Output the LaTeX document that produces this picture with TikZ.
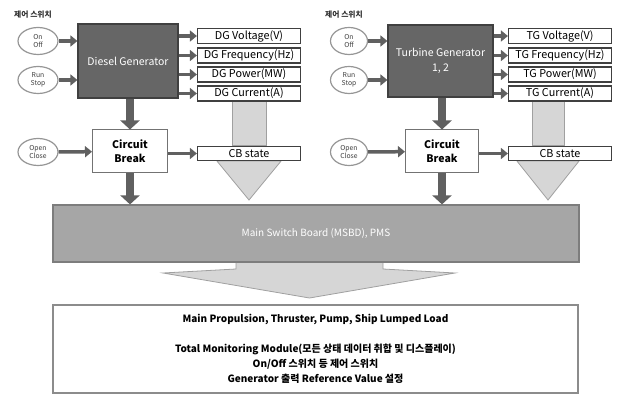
\documentclass[tikz,border=0pt]{standalone}
\usepackage{fontspec}
\setmainfont{Noto Sans CJK KR}
\usetikzlibrary{arrows.meta, shapes.geometric, calc, backgrounds}
\definecolor{genfill}{RGB}{102,102,102}
\definecolor{genline}{RGB}{64,64,64}
\definecolor{flowgray}{RGB}{96,96,96}
\definecolor{boardfill}{RGB}{166,166,166}
\definecolor{boardline}{RGB}{125,125,125}
\definecolor{lightfill}{RGB}{214,214,214}
\definecolor{lightline}{RGB}{160,160,160}
\definecolor{switchline}{RGB}{150,150,150}

\begin{document}
\begin{tikzpicture}[x=1pt, y=-1pt,
	switch/.style={ellipse, draw=switchline, line width=1.2pt, fill=white, minimum width=40pt, minimum height=27pt, inner sep=0pt, align=center, font=\fontsize{6.8}{7.8}\selectfont, text=black!75},
	gen/.style={draw=genline, line width=1.2pt, fill=genfill, text=white, align=center, inner sep=0pt, font=\fontsize{10.5}{15}\selectfont},
	outbox/.style={draw=black!75, line width=1.2pt, fill=white, minimum width=103pt, minimum height=15pt, inner sep=0pt, font=\fontsize{10.8}{11}\selectfont},
	breaker/.style={draw=black!55, line width=1pt, fill=white, minimum width=75pt, minimum height=43pt, inner sep=0pt, align=center, font=\bfseries\fontsize{10.5}{14}\selectfont},
	caption/.style={font=\bfseries\fontsize{7.8}{8}\selectfont, text=black!80},
	flow/.style={draw=flowgray, line width=3.5pt, -{Triangle[length=7pt, width=11pt]}},
	bigflow/.style={draw=flowgray, line width=8pt, -{Triangle[length=9pt, width=19pt]}},
	wide/.style={fill=lightfill, draw=lightline, line width=0.8pt},
	]
	\useasboundingbox (0,0) rectangle (618,406);

	\node[caption] (dglabel) at (33,15) {제어 스위치};
	\node[switch] (dgon) at (38,41) {On\\Off};
	\node[switch] (dgrun) at (38,80) {Run\\Stop};
	\node[switch] (dgopen) at (38,152) {Open\\Close};
	\node[gen, minimum width=100pt, minimum height=74pt] (dg) at (128,61) {Diesel Generator};
	\node[outbox] (dgvolt) at (249,36) {DG Voltage(V)};
	\node[outbox] (dgfreq) at (249,55.5) {DG Frequency(Hz)};
	\node[outbox] (dgpow) at (249,74.5) {DG Power(MW)};
	\node[outbox] (dgcur) at (249,93.5) {DG Current(A)};
	\node[breaker] (dgcb) at (130,151.5) {Circuit\\Break};
	\node[outbox, minimum height=14pt] (dgstate) at (249,153.5) {CB state};
	\coordinate (dgtip) at (249,200);

	\node[caption] (tglabel) at (344,15) {제어 스위치};
	\node[switch, minimum width=37pt] (tgon) at (349,41) {On\\Off};
	\node[switch, minimum width=37pt] (tgrun) at (349,80) {Run\\Stop};
	\node[switch, minimum width=37pt] (tgopen) at (349,152) {Open\\Close};
	\node[gen, minimum width=105pt, minimum height=72pt] (tg) at (440.5,61) {Turbine Generator\\1, 2};
	\node[outbox] (tgvolt) at (560,36) {TG Voltage(V)};
	\node[outbox] (tgfreq) at (560,55.5) {TG Frequency(Hz)};
	\node[outbox] (tgpow) at (560,74.5) {TG Power(MW)};
	\node[outbox] (tgcur) at (560,93.5) {TG Current(A)};
	\node[breaker, minimum width=73pt] (tgcb) at (442,151.5) {Circuit\\Break};
	\node[outbox, minimum height=14pt] (tgstate) at (560,153.5) {CB state};
	\coordinate (tgtip) at (548,200);

	\node[draw=boardline, line width=1.2pt, fill=boardfill, text=white, minimum width=526pt, minimum height=57pt, font=\fontsize{10}{11}\selectfont] (msbd) at (316,233.5) {Main Switch Board (MSBD), PMS};
	\node[draw=black!45, line width=1.2pt, fill=white, minimum width=525pt, minimum height=88pt, align=center, font=\bfseries\fontsize{10}{15}\selectfont] (load) at (315.5,349) {Main Propulsion, Thruster, Pump, Ship Lumped Load\\[15pt]Total Monitoring Module(모든 상태 데이터 취합 및 디스플레이)\\On/Off 스위치 등 제어 스위치\\Generator 출력 Reference Value 설정};

	\draw[flow] (dgon) -- (dgon -| dg.west);
	\draw[flow] (dgrun) -- (dgrun -| dg.west);
	\draw[flow] (dgopen) -- (dgcb);
	\draw[flow] (dg.east |- dgvolt) -- (dgvolt);
	\draw[flow] (dg.east |- dgfreq) -- (dgfreq);
	\draw[flow] (dg.east |- dgpow) -- (dgpow);
	\draw[flow] (dg.east |- dgcur) -- (dgcur);
	\draw[flow] (dgcb.east |- dgstate) -- (dgstate);
	\draw[bigflow] (dg.south -| dgcb) -- (dgcb);
	\draw[bigflow] (dgcb) -- (dgcb |- msbd.north);

	\draw[flow] (tgon) -- (tgon -| tg.west);
	\draw[flow] (tgrun) -- (tgrun -| tg.west);
	\draw[flow] (tgopen) -- (tgcb);
	\draw[flow] (tg.east |- tgvolt) -- (tgvolt);
	\draw[flow] (tg.east |- tgfreq) -- (tgfreq);
	\draw[flow] (tg.east |- tgpow) -- (tgpow);
	\draw[flow] (tg.east |- tgcur) -- (tgcur);
	\draw[flow] (tgcb.east |- tgstate) -- (tgstate);
	\draw[bigflow] (tg.south -| tgcb) -- (tgcb);
	\draw[bigflow] (tgcb) -- (tgcb |- msbd.north);

	\begin{scope}[on background layer]
		\filldraw[wide] ($(dgtip |- dgcur.south)+(-17,0)$) rectangle ($(dgtip |- dgstate.north)+(17,0)$);
		\filldraw[wide] ($(dgtip |- dgstate.south)+(-32,0)$) -- ($(dgtip |- dgstate.south)+(32,0)$) -- (dgtip) -- cycle;
		\filldraw[wide] ($(tgtip |- tgcur.south)+(-16,0)$) rectangle ($(tgtip |- tgstate.north)+(16,0)$);
		\filldraw[wide] ($(tgtip |- tgstate.south)+(-31,0)$) -- ($(tgtip |- tgstate.south)+(31,0)$) -- (tgtip) -- cycle;
		\filldraw[wide] (236,262) -- (236,269) -- (163,273) -- (309.5,298) -- (455,273) -- (383,269) -- (383,262) -- cycle;
	\end{scope}
\end{tikzpicture}
\end{document}
